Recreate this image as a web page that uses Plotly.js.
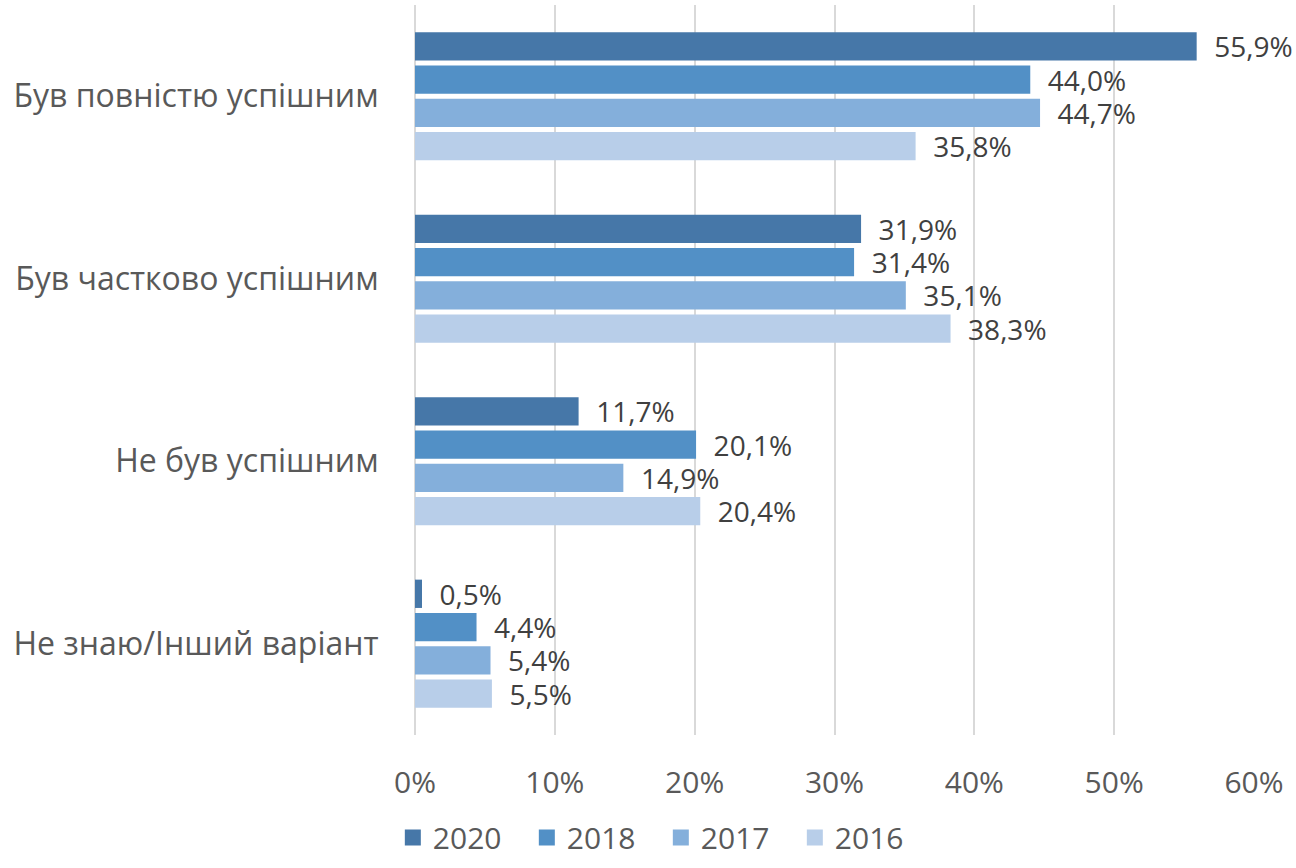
<!DOCTYPE html>
<html>
<head>
<meta charset="utf-8">
<script src="https://cdn.plot.ly/plotly-3.0.1.min.js"></script>
<style>
  body { margin: 0; background: #fff; }
  #chart { width: 1296px; height: 868px; }
</style>
</head>
<body>
<div id="chart"></div>
<script>
const categories = ['Був повністю успішним', 'Був частково успішним', 'Не був успішним', 'Не знаю/Інший варіант'];
const years = ['2020', '2018', '2017', '2016'];
const values2020 = [55.9, 31.9, 11.7, 0.5];
const values2018 = [44.0, 31.4, 20.1, 4.4];
const values2017 = [44.7, 35.1, 14.9, 5.4];
const values2016 = [35.8, 38.3, 20.4, 5.5];
const colors = ['#4677A8', '#5290C6', '#84AFDB', '#B8CEE9'];

const allValues = [values2020, values2018, values2017, values2016];

var data = [];
for (let i = 0; i < years.length; i++) {
    data.push({
        type: 'bar',
        orientation: 'h',
        name: years[i],
        legendgroup: years[i],
        showlegend: false,
        x: allValues[i],
        y: categories,
        marker: {color: colors[i]},
        texttemplate: '\u00a0\u00a0%{x:.1f}%',
        textposition: 'outside',
        constraintext: 'none',
        cliponaxis: false,
        textfont: {size: 28, color: '#404040', family: 'Open Sans, sans-serif'},
        hoverinfo: 'none'
    });
}
// legend entries with bigger square swatches
for (let i = 0; i < years.length; i++) {
    data.push({
        type: 'scatter',
        mode: 'markers',
        name: years[i],
        legendgroup: years[i],
        x: [null],
        y: [categories[0]],
        marker: {symbol: 'square', size: 20, color: colors[i]},
        hoverinfo: 'none'
    });
}

var layout = {
    width: 1296,
    height: 868,
    margin: {l: 415, r: 42, t: 5, b: 130},
    barmode: 'group',
    bargap: 0.27,
    bargroupgap: 0.15,
    separators: ', ',
    paper_bgcolor: '#ffffff',
    plot_bgcolor: '#ffffff',
    font: {family: 'Open Sans, sans-serif', color: '#595959', size: 30},
    xaxis: {
        range: [0, 60],
        dtick: 10,
        ticksuffix: '%',
        showgrid: true,
        gridcolor: '#d9d9d9',
        gridwidth: 2,
        zeroline: true,
        zerolinecolor: '#d9d9d9',
        zerolinewidth: 2,
        ticks: 'outside',
        ticklen: 21,
        tickcolor: 'rgba(0,0,0,0)',
        tickfont: {size: 30, color: '#595959'}
    },
    yaxis: {
        autorange: 'reversed',
        showgrid: false,
        ticks: 'outside',
        ticklen: 29,
        tickcolor: 'rgba(0,0,0,0)',
        tickfont: {size: 32, color: '#595959'}
    },
    showlegend: true,
    legend: {
        orientation: 'h',
        x: 0.293,
        xanchor: 'center',
        y: -0.176,
        yanchor: 'bottom',
        font: {size: 30, color: '#595959'},
        itemwidth: 30,
        entrywidth: 89,
        tracegroupgap: 0
    }
};

Plotly.newPlot('chart', data, layout, {staticPlot: true});
</script>
</body>
</html>
